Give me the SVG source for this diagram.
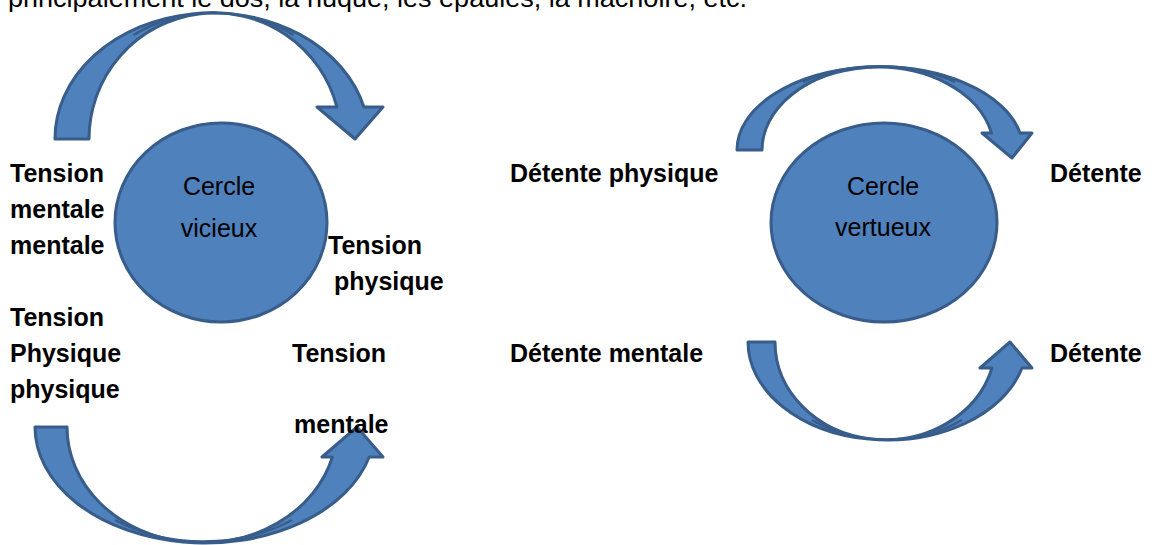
<svg xmlns="http://www.w3.org/2000/svg" width="1154" height="545" viewBox="0 0 1154 545">
<style>
.bg{fill:#ffffff}
.shape{fill:#4F81BD;stroke:#385D8A;stroke-width:3;stroke-linejoin:round}
.seam{fill:none;stroke:#385D8A;stroke-width:2.5}
.lbl{font-family:"Liberation Sans",Arial,sans-serif;font-weight:bold;font-size:25px;fill:#000}
.reg{font-family:"Liberation Sans",Arial,sans-serif;font-size:25px;fill:#000}
.ctr{text-anchor:middle}
</style>
<rect class="bg" x="0" y="0" width="1154" height="545"/>
<text class="reg" x="8" y="7" textLength="739" lengthAdjust="spacingAndGlyphs">principalement le dos, la nuque, les épaules, la mâchoire, etc.</text>

<g id="connectors">
  <g id="arrow-top-left">
    <path class="shape" d="M55,139 A157,126 0 0 1 363.9,107 L383,107 L355,139 L317,107 L336.9,107 A126,126 0 0 0 89,139 Z"/>
    <path class="seam" d="M133.5,35 A141.5,126 0 0 1 293.5,35"/>
  </g>
  <g id="arrow-bottom-left">
    <path class="shape" d="M35,427 A170,116 0 0 0 369.2,457 L383,457 L357,427 L322,457 L332.4,457 A135,116 0 0 1 67,427 Z"/>
    <path class="seam" d="M115,520 A152.5,116 0 0 0 292,520"/>
  </g>
  <g id="arrow-top-right">
    <path class="shape" d="M737,150 A143,83 0 0 1 1020,133 L1032,133 L1012,158 L982,133 L991.5,133 A116,83 0 0 0 762,150 Z"/>
    <path class="seam" d="M803,82 A129.5,83 0 0 1 955,82"/>
  </g>
  <g id="arrow-bottom-right">
    <path class="shape" d="M748,342 A139.5,98 0 0 0 1022,368 L1032,368 L1010,342 L980,368 L992,368 A110.5,98 0 0 1 775,342 Z"/>
    <path class="seam" d="M812,420 A125,98 0 0 0 962,420"/>
  </g>
</g>

<g id="node-cercle-vicieux">
  <ellipse class="shape" cx="221" cy="222.5" rx="106" ry="99.5"/>
  <text class="reg ctr" x="219" y="195">Cercle</text>
  <text class="reg ctr" x="219" y="237">vicieux</text>
</g>
<g id="node-cercle-vertueux">
  <ellipse class="shape" cx="884" cy="222.5" rx="113" ry="99.5"/>
  <text class="reg ctr" x="883" y="195">Cercle</text>
  <text class="reg ctr" x="883" y="236">vertueux</text>
</g>

<g id="node-tension-mentale-left">
  <text class="lbl" x="10" y="182">Tension</text>
  <text class="lbl" x="10" y="218">mentale</text>
  <text class="lbl" x="10" y="254">mentale</text>
</g>
<g id="node-tension-physique-left">
  <text class="lbl" x="10" y="326">Tension</text>
  <text class="lbl" x="10" y="362">Physique</text>
  <text class="lbl" x="10" y="398">physique</text>
</g>
<g id="node-tension-physique-right">
  <text class="lbl" x="328" y="254">Tension</text>
  <text class="lbl" x="334" y="290">physique</text>
</g>
<g id="node-tension-mentale-bottom">
  <text class="lbl" x="292" y="362">Tension</text>
  <text class="lbl" x="294" y="433">mentale</text>
</g>
<g id="node-detente-physique">
  <text class="lbl" x="510" y="182">Détente physique</text>
</g>
<g id="node-detente-mentale">
  <text class="lbl" x="510" y="362">Détente mentale</text>
</g>
<g id="node-detente-top">
  <text class="lbl" x="1050" y="182">Détente</text>
</g>
<g id="node-detente-bottom">
  <text class="lbl" x="1050" y="362">Détente</text>
</g>
</svg>
